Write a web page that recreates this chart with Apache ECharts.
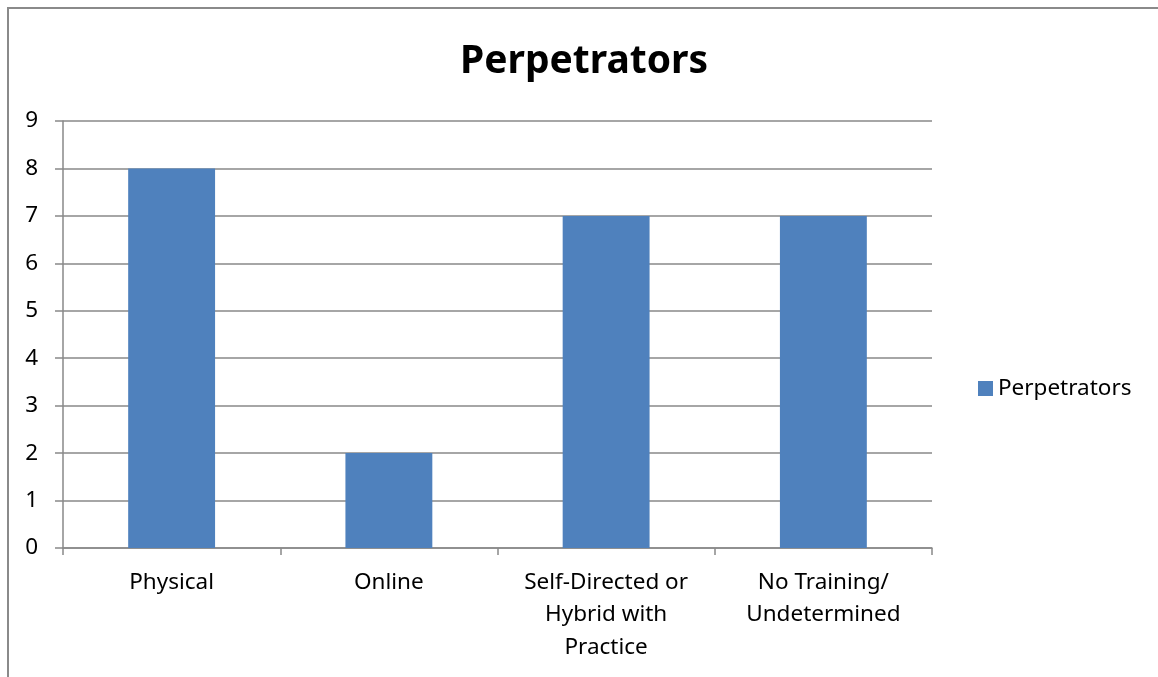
<!DOCTYPE html>
<html>
<head>
<meta charset="utf-8">
<script src="https://cdn.jsdelivr.net/npm/echarts@6/dist/echarts.min.js"></script>
<style>html,body{margin:0;padding:0;background:#fff}#c{width:1158px;height:677px}</style>
</head>
<body>
<div id="c"></div>
<script>
const categories = ["Physical", "Online", "Self-Directed or\nHybrid with\nPractice", "No Training/\nUndetermined"];
const perpetrators = [8, 2, 7, 7];
const yTicks = [0, 1, 2, 3, 4, 5, 6, 7, 8, 9];

const chart = echarts.init(document.getElementById('c'), null, {renderer: 'canvas'});
const font = '"Noto Sans", "Open Sans", sans-serif';
chart.setOption({
  animation: false,
  backgroundColor: '#fff',
  title: {
    text: 'Perpetrators',
    left: 579, top: 37, textAlign: 'center',
    textStyle: {fontFamily: font, fontSize: 39, fontWeight: 'bold', color: '#000'}
  },
  graphic: [{
    type: 'rect', shape: {x: 8, y: 8, width: 1300, height: 800},
    style: {fill: null, stroke: '#8a8a8a', lineWidth: 2}, silent: true, z: -1
  }],
  legend: {
    left: 973, top: 372, itemWidth: 15, itemHeight: 15, itemGap: 6,
    icon: 'rect',
    textStyle: {fontFamily: font, fontSize: 22.5, color: '#000', padding: [0, 0, 0, 0]},
    data: ['Perpetrators']
  },
  grid: {left: 63, right: 226, top: 121, bottom: 129, containLabel: false},
  xAxis: {
    type: 'category', data: categories,
    axisLine: {lineStyle: {color: '#898989', width: 1.5}},
    axisTick: {show: true, length: 7, lineStyle: {color: '#898989', width: 1.5}},
    axisLabel: {fontFamily: font, fontSize: 22.5, color: '#000', margin: 18, lineHeight: 32.5, interval: 0}
  },
  yAxis: {
    type: 'value', min: 0, max: 9, interval: 1,
    axisLine: {show: true, lineStyle: {color: '#898989', width: 1.5}},
    axisTick: {show: true, length: 8, inside: false, lineStyle: {color: '#898989', width: 1.5}},
    splitLine: {show: true, lineStyle: {color: '#898989', width: 1.5}},
    axisLabel: {fontFamily: font, fontSize: 22.5, color: '#000', margin: 25,
      formatter: v => yTicks.includes(v) ? String(v) : ''}
  },
  series: [{
    name: 'Perpetrators', type: 'bar', data: perpetrators,
    barWidth: '40%',
    itemStyle: {color: '#4F81BD'}
  }]
});
</script>
</body>
</html>
